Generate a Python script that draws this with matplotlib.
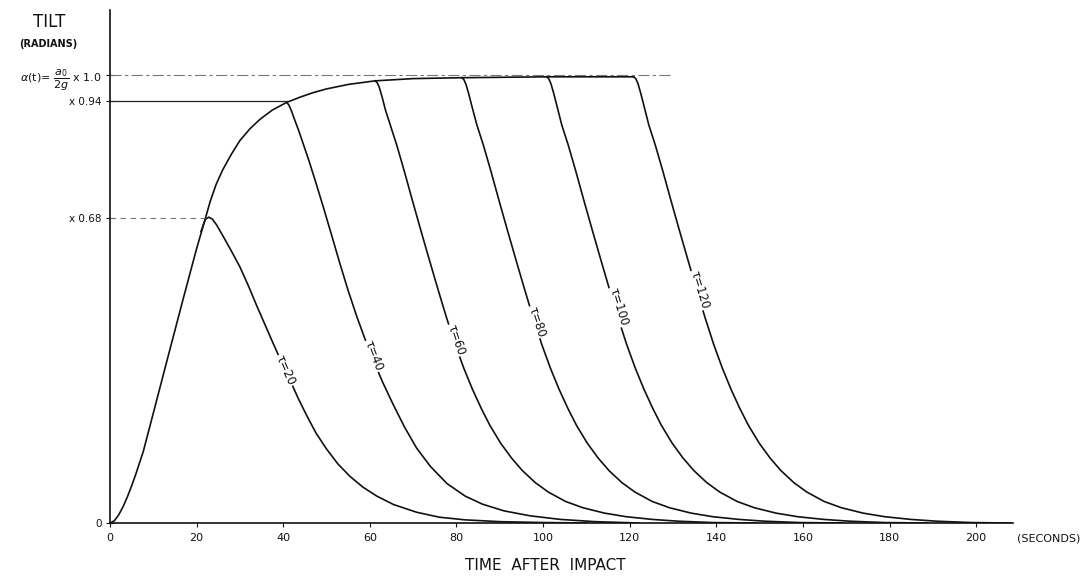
"""Tilt after impact: rising envelope and decay curves for tau = 20 ... 120 s.

Values read off the scanned figure; drawn as plain line plots.
"""

from __future__ import annotations

import matplotlib

matplotlib.use("Agg")
import matplotlib.pyplot as plt

OUT_PATH = "out.png"

# common rising envelope alpha(t) / (a0 / 2g)
ENV_T = [0, 1.0, 2.0, 3.0, 4.0, 5.0, 6.0, 7.7, 10.0, 13.1, 16.9, 20.0, 21.9,
         23.1, 24.5, 26.0, 28.0, 30.0, 32.3, 34.6, 37.5, 40.8, 44.0, 47.0,
         50.0, 55.0, 61.2, 70.0, 81.2, 100.8, 120.9]
ENV_A = [0, 0.005, 0.018, 0.036, 0.058, 0.083, 0.11, 0.16, 0.245, 0.36, 0.5,
         0.612, 0.675, 0.716, 0.755, 0.787, 0.822, 0.853, 0.879, 0.9, 0.921,
         0.938, 0.95, 0.96, 0.968, 0.978, 0.986, 0.991, 0.993, 0.995, 0.995]

# decay branches, one per tau
T20 = [21.0, 22.0, 22.8, 23.6, 24.6, 26.2, 28.0, 30.0, 32.0, 33.9, 35.8, 37.7,
       39.6, 41.6, 43.5, 45.4, 47.6, 50.0, 52.6, 55.4, 58.4, 61.6, 65.5, 70.8,
       76.0, 82.0, 90.0, 100.0, 110.0]
A20 = [0.65, 0.677, 0.682, 0.678, 0.665, 0.638, 0.607, 0.571, 0.528, 0.484,
       0.442, 0.40, 0.359, 0.318, 0.277, 0.24, 0.2, 0.165, 0.132, 0.104, 0.08,
       0.06, 0.041, 0.024, 0.013, 0.007, 0.003, 0.001, 0.0]

T40 = [40.8, 41.3, 41.9, 42.6, 43.5, 44.6, 46.0, 47.6, 49.3, 51.2, 53.1, 55.0,
       57.0, 59.0, 61.0, 63.0, 65.4, 68.0, 70.8, 74.0, 77.8, 82.0, 86.0, 91.0,
       97.0, 104.0, 112.0, 122.0]
A40 = [0.938, 0.932, 0.919, 0.9, 0.877, 0.846, 0.806, 0.757, 0.703, 0.641,
       0.578, 0.518, 0.46, 0.407, 0.358, 0.313, 0.264, 0.214, 0.167, 0.126,
       0.088, 0.06, 0.042, 0.027, 0.016, 0.008, 0.003, 0.0]

T60 = [61.2, 61.7, 62.2, 62.8, 63.6, 64.7, 66.2, 68.0, 69.8, 71.7, 73.7, 75.7,
       77.7, 79.7, 81.7, 83.7, 85.7, 87.7, 90.2, 92.7, 95.2, 98.2, 101.2,
       105.2, 109.2, 114.2, 119.2, 125.2, 131.2, 139.2, 149.2]
A60 = [0.986, 0.982, 0.971, 0.951, 0.921, 0.888, 0.843, 0.783, 0.72, 0.655,
       0.588, 0.522, 0.458, 0.398, 0.345, 0.298, 0.256, 0.218, 0.178, 0.145,
       0.117, 0.09, 0.069, 0.048, 0.034, 0.022, 0.014, 0.008, 0.004, 0.001,
       0.0]

T80 = [81.2, 81.7, 82.2, 82.8, 83.6, 84.7, 86.2, 88.0, 89.8, 91.7, 93.7, 95.7,
       97.7, 99.7, 101.7, 103.7, 105.7, 107.7, 110.2, 112.7, 115.2, 118.2,
       121.2, 125.2, 129.2, 134.2, 139.2, 145.2, 151.2, 159.2, 169.2]
A80 = [0.993, 0.989, 0.978, 0.958, 0.928, 0.888, 0.843, 0.783, 0.72, 0.655,
       0.588, 0.522, 0.458, 0.398, 0.345, 0.298, 0.256, 0.218, 0.178, 0.145,
       0.117, 0.09, 0.069, 0.048, 0.034, 0.022, 0.014, 0.008, 0.004, 0.001,
       0.0]

T100 = [100.8, 101.3, 101.8, 102.4, 103.2, 104.3, 105.8, 107.6, 109.4, 111.3,
        113.3, 115.3, 117.3, 119.3, 121.3, 123.3, 125.3, 127.3, 129.8, 132.3,
        134.8, 137.8, 140.8, 144.8, 148.8, 153.8, 158.8, 164.8, 170.8, 178.8,
        188.8]
A100 = [0.995, 0.991, 0.98, 0.96, 0.93, 0.888, 0.843, 0.783, 0.72, 0.655,
        0.588, 0.522, 0.458, 0.398, 0.345, 0.298, 0.256, 0.218, 0.178, 0.145,
        0.117, 0.09, 0.069, 0.048, 0.034, 0.022, 0.014, 0.008, 0.004, 0.001,
        0.0]

T120 = [120.9, 121.4, 121.9, 122.5, 123.3, 124.4, 125.9, 127.7, 129.5, 131.4,
        133.4, 135.4, 137.4, 139.4, 141.4, 143.4, 145.4, 147.4, 149.9, 152.4,
        154.9, 157.9, 160.9, 164.9, 168.9, 173.9, 178.9, 184.9, 190.9, 198.9,
        208.0]
A120 = [0.995, 0.991, 0.98, 0.96, 0.93, 0.888, 0.843, 0.783, 0.72, 0.655,
        0.588, 0.522, 0.458, 0.398, 0.345, 0.298, 0.256, 0.218, 0.178, 0.145,
        0.117, 0.09, 0.069, 0.048, 0.034, 0.022, 0.014, 0.008, 0.004, 0.001,
        0.0]

TAUS = [20, 40, 60, 80, 100, 120]
LABEL_T = [40.4, 60.9, 79.8, 98.6, 117.4, 136.2]
LABEL_A = [0.34, 0.373, 0.408, 0.449, 0.482, 0.52]
LABEL_ROT = [-66, -69, -71, -72, -73, -73]

REF_LEVELS = [1.0, 0.94, 0.68]
REF_ENDS = [130.0, 40.8, 22.0]

X_TICKS = [0, 20, 40, 60, 80, 100, 120, 140, 160, 180, 200]
Y_TICKS = [0, 0.68, 0.94, 1.0]
Y_TICK_LABELS = ["0", "x 0.68", "x 0.94", r"$\alpha$(t)= $\dfrac{a_0}{2g}$ x 1.0"]

W, H = 1089, 578


def plot_tilt(out_path: str) -> None:
    plt.rcParams["font.family"] = ["DejaVu Sans"]
    plt.rcParams["mathtext.fontset"] = "dejavusans"

    fig = plt.figure(figsize=(W / 100, H / 100), dpi=100)
    ax = fig.add_axes([110 / W, 1 - 523 / H, (1013 - 110) / W, (523 - 10) / H])

    ink = "#111111"
    ax.plot(ENV_T, ENV_A, color=ink, lw=1.2, solid_joinstyle="round")
    branches = [(T20, A20), (T40, A40), (T60, A60), (T80, A80), (T100, A100),
                (T120, A120)]
    for t, a in branches:
        ax.plot(t, a, color=ink, lw=1.2, solid_joinstyle="round")

    # reference levels out to the y axis
    styles = [("#777777", (0, (10, 3, 3, 3)), 0.8),
              ("#222222", "-", 0.9),
              ("#777777", (0, (5, 4)), 0.8)]
    for level, end, (col, ls, lw) in zip(REF_LEVELS, REF_ENDS, styles):
        ax.plot([0, end], [level, level], color=col, linestyle=ls, lw=lw)

    for tau, lt, la, rot in zip(TAUS, LABEL_T, LABEL_A, LABEL_ROT):
        ax.text(lt, la, f"τ={tau}", rotation=rot, rotation_mode="anchor",
                ha="center", va="center", fontsize=8.5, color=ink,
                bbox=dict(facecolor="white", edgecolor="none", pad=0.6))

    ax.set_xlim(0, 208.5)
    ax.set_ylim(0, 1.144)
    ax.set_xticks(X_TICKS)
    ax.set_xticklabels([str(v) for v in X_TICKS])
    ax.set_yticks(Y_TICKS)
    ax.set_yticklabels(Y_TICK_LABELS)
    ax.tick_params(axis="x", direction="out", length=3, width=0.8, pad=4,
                   labelsize=8, colors=ink)
    ax.tick_params(axis="y", direction="inout", length=6, width=0.8, pad=3,
                   labelsize=7.5, colors=ink)
    ax.get_yticklabels()[-1].set_fontsize(8)

    for side in ("top", "right"):
        ax.spines[side].set_visible(False)
    for side in ("left", "bottom"):
        ax.spines[side].set_linewidth(1.2)
        ax.spines[side].set_color(ink)

    ax.text(209.5, -0.035, "(SECONDS)", fontsize=8, ha="left", va="center",
            color=ink, clip_on=False)

    fig.text(49 / W, 1 - 22 / H, "TILT", fontsize=12, ha="center", va="center",
             color=ink)
    fig.text(48 / W, 1 - 44 / H, "(RADIANS)", fontsize=7, fontweight="bold",
             ha="center", va="center", color=ink)
    fig.text(545 / W, 1 - 566 / H, "TIME  AFTER  IMPACT", fontsize=11,
             ha="center", va="center", color=ink)

    fig.savefig(out_path, dpi=100, facecolor="white")
    plt.close(fig)


def main() -> None:
    plot_tilt(OUT_PATH)


if __name__ == "__main__":
    main()
